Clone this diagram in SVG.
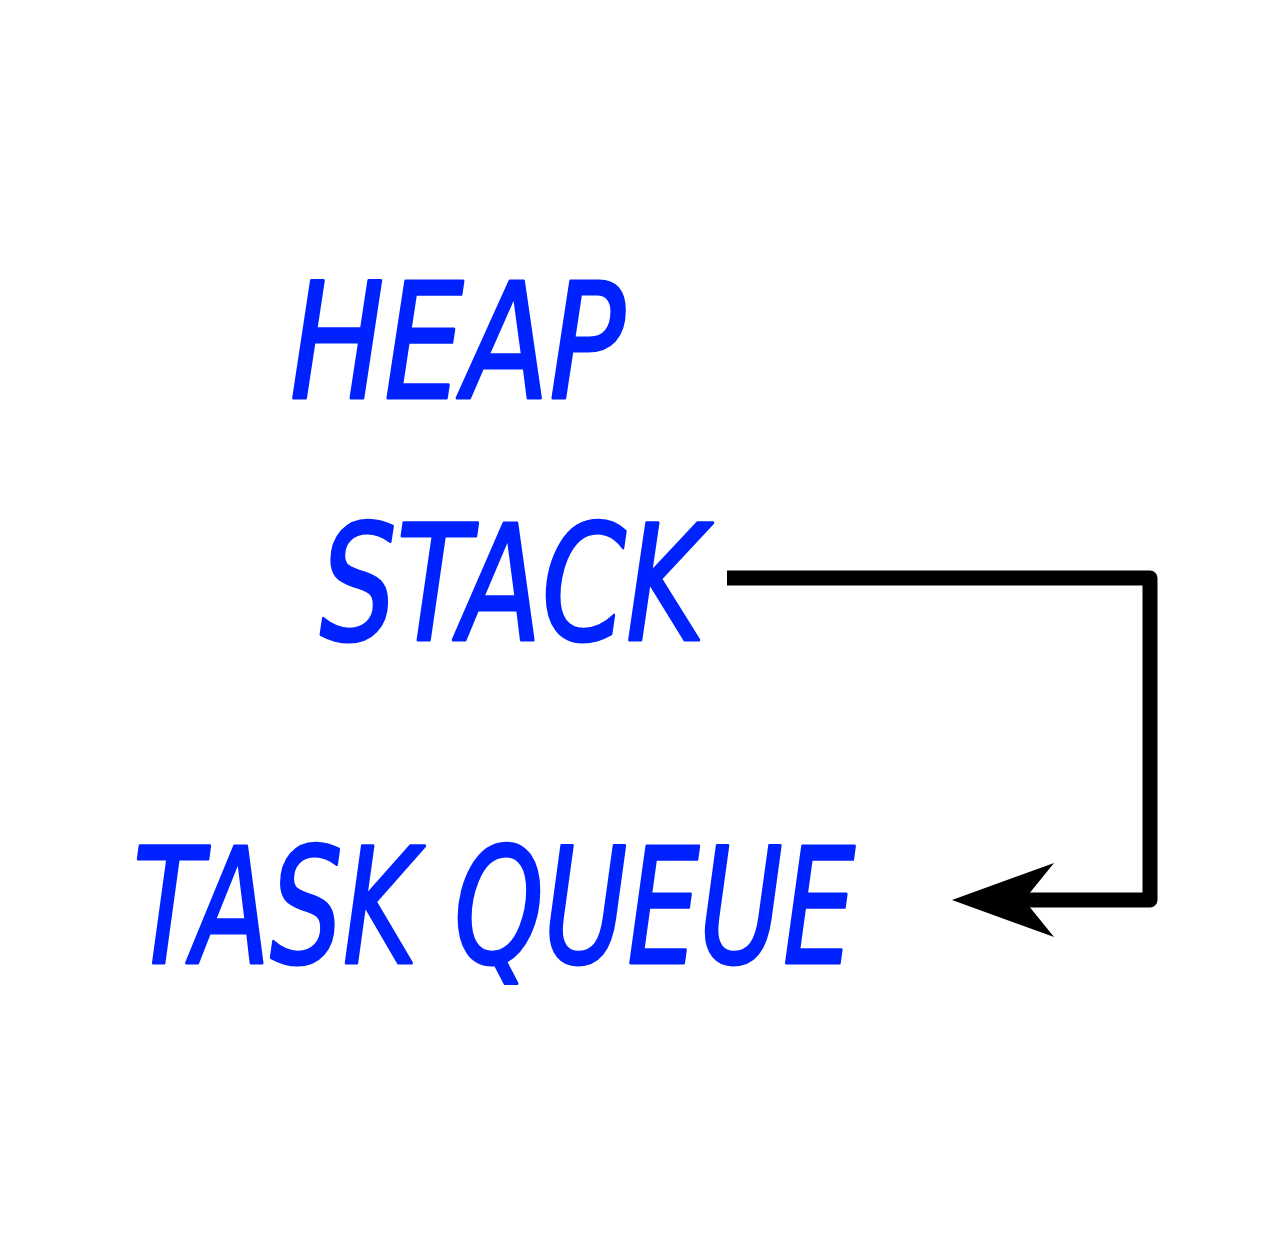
<svg xmlns="http://www.w3.org/2000/svg" width="1268" height="1250" viewBox="0 0 1268 1250">
<style>
.lbl{font-family:"DejaVu Sans","Liberation Sans",sans-serif;font-weight:normal;font-style:oblique;font-size:160px;fill:#0022ff;stroke:#0022ff;stroke-width:3;stroke-linejoin:round}
.conn{fill:none;stroke:#000;stroke-width:15;stroke-linejoin:round}
.head{fill:#000}
</style>
<rect width="1268" height="1250" fill="#fff"/>
<g id="heap"><text class="lbl" x="290" y="398" textLength="335" lengthAdjust="spacingAndGlyphs">HEAP</text></g>
<g id="stack"><text class="lbl" x="320" y="640" textLength="385" lengthAdjust="spacingAndGlyphs">STACK</text></g>
<g id="taskqueue"><text class="lbl" x="133" y="963" textLength="722" lengthAdjust="spacingAndGlyphs">TASK QUEUE</text></g>
<g id="connectors">
<path class="conn" d="M727,578 H1150 V900 H1020"/>
<path class="head" d="M952,900 L1054,863 L1024,900 L1054,937 Z"/>
</g>
</svg>
